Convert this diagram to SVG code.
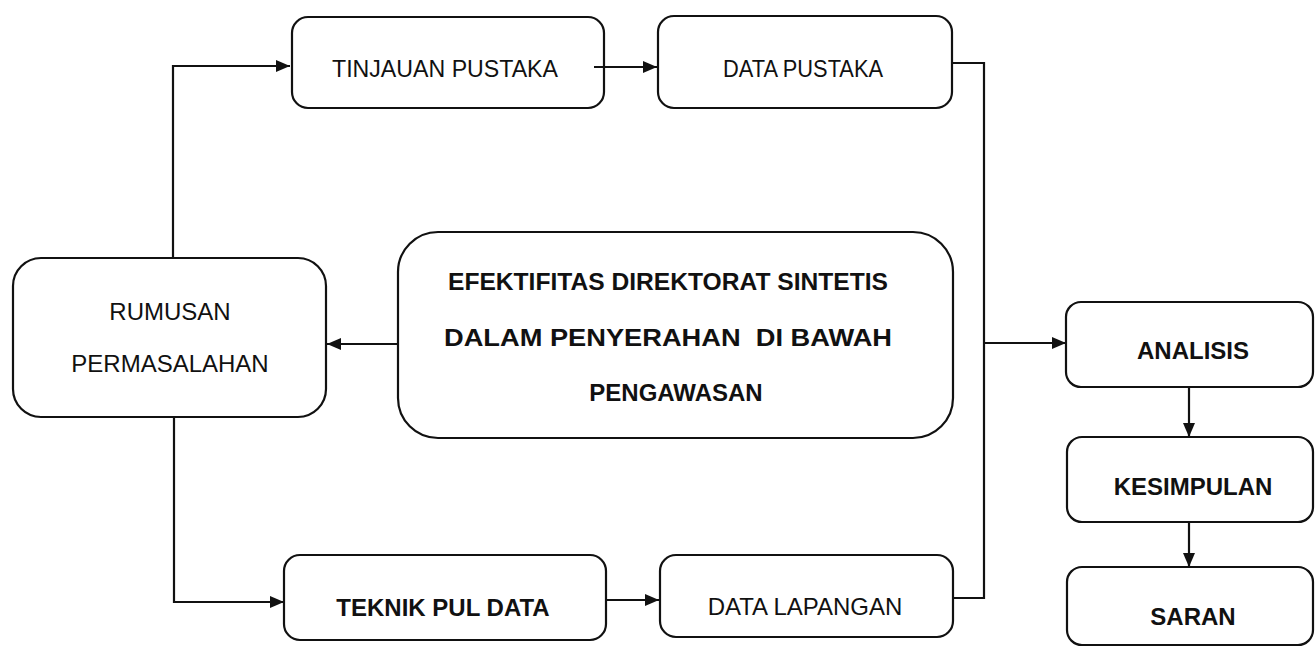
<svg xmlns="http://www.w3.org/2000/svg" width="1316" height="647" viewBox="0 0 1316 647">
<style>
.box{fill:none;stroke:#111;stroke-width:2.2}
.t{font-family:"Liberation Sans",Arial,sans-serif;font-size:24px;fill:#111;text-anchor:middle}
.b{font-weight:bold}
.c{fill:none;stroke:#111;stroke-width:2.2}
</style>
<defs>
<marker id="ah" viewBox="0 0 14 12" refX="14" refY="6" markerWidth="14" markerHeight="12" markerUnits="userSpaceOnUse" orient="auto">
<path d="M0,0 L14,6 L0,12 Z" fill="#111"/>
</marker>
</defs>
<rect width="1316" height="647" fill="#fff"/>
<g id="connectors">
<path class="c" d="M173,258 V66 H290" marker-end="url(#ah)"/>
<path class="c" d="M594,67 H657" marker-end="url(#ah)"/>
<path class="c" d="M952,63 H984 V598 H953"/>
<path class="c" d="M984,343 H1066" marker-end="url(#ah)"/>
<path class="c" d="M398,344 H327" marker-end="url(#ah)"/>
<path class="c" d="M174,417 V602 H284" marker-end="url(#ah)"/>
<path class="c" d="M606,600 H659" marker-end="url(#ah)"/>
<path class="c" d="M1189,387 V437" marker-end="url(#ah)"/>
<path class="c" d="M1189,522 V567" marker-end="url(#ah)"/>
</g>
<g id="tinjauan">
<rect class="box" x="292" y="17" width="312" height="91" rx="16"/>
<text class="t" x="445" y="77" textLength="226" lengthAdjust="spacingAndGlyphs">TINJAUAN PUSTAKA</text>
</g>
<g id="datapustaka">
<rect class="box" x="658" y="16" width="294" height="92" rx="16"/>
<text class="t" x="803" y="77" textLength="160" lengthAdjust="spacingAndGlyphs">DATA PUSTAKA</text>
</g>
<g id="rumusan">
<rect class="box" x="13" y="258" width="313" height="159" rx="28"/>
<text class="t" x="170" y="320">RUMUSAN</text>
<text class="t" x="170" y="372">PERMASALAHAN</text>
</g>
<g id="efektifitas">
<rect class="box" x="398" y="232" width="555" height="206" rx="40"/>
<text class="t b" x="668" y="290" textLength="440" lengthAdjust="spacingAndGlyphs">EFEKTIFITAS DIREKTORAT SINTETIS</text>
<text class="t b" x="668" y="346" textLength="448" lengthAdjust="spacingAndGlyphs" xml:space="preserve">DALAM PENYERAHAN  DI BAWAH</text>
<text class="t b" x="676" y="401">PENGAWASAN</text>
</g>
<g id="teknik">
<rect class="box" x="284" y="555" width="322" height="85" rx="16"/>
<text class="t b" x="443" y="616">TEKNIK PUL DATA</text>
</g>
<g id="datalapangan">
<rect class="box" x="660" y="555" width="293" height="82" rx="16"/>
<text class="t" x="805" y="615">DATA LAPANGAN</text>
</g>
<g id="analisis">
<rect class="box" x="1066" y="302" width="247" height="85" rx="15"/>
<text class="t b" x="1193" y="359">ANALISIS</text>
</g>
<g id="kesimpulan">
<rect class="box" x="1067" y="437" width="246" height="85" rx="15"/>
<text class="t b" x="1193" y="495">KESIMPULAN</text>
</g>
<g id="saran">
<rect class="box" x="1067" y="567" width="246" height="78" rx="15"/>
<text class="t b" x="1193" y="625">SARAN</text>
</g>
</svg>
